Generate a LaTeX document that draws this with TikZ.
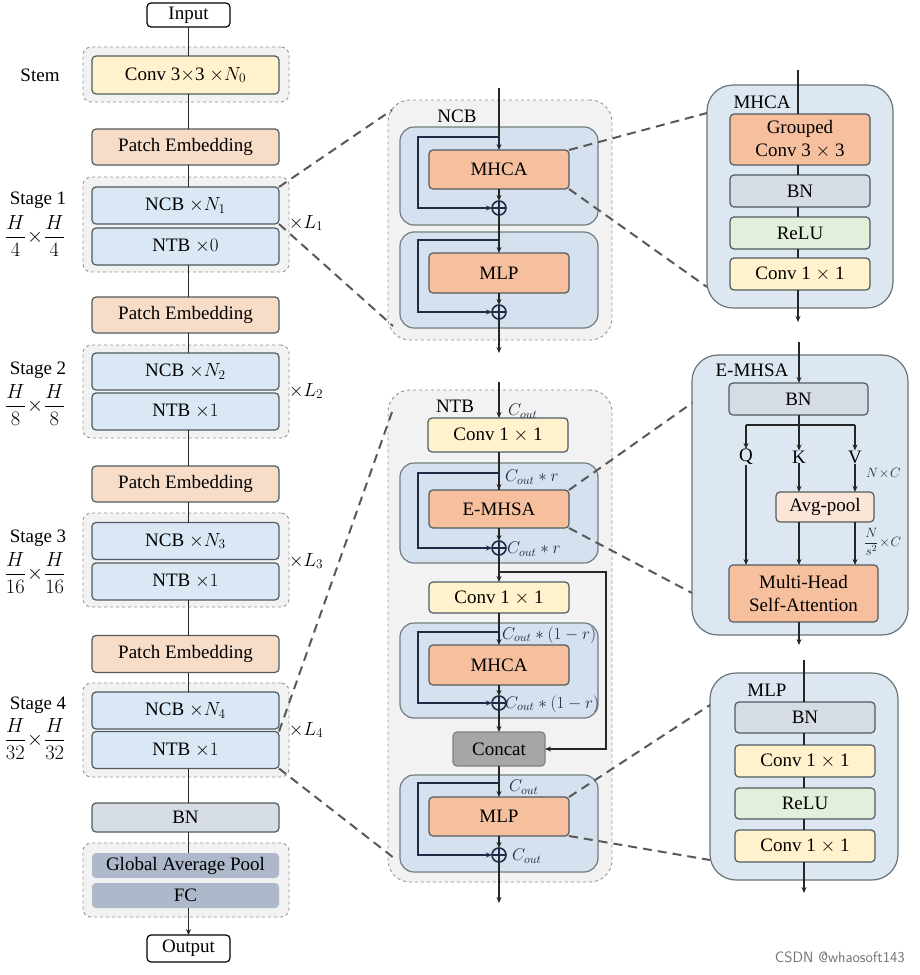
\RequirePackage{fix-cm}
\documentclass[tikz,border=0pt]{standalone}
\usepackage{amsmath}
\usepackage{fontspec}
\setmainfont{Liberation Serif}
\usetikzlibrary{arrows.meta,calc}
\definecolor{bord}{HTML}{4F5B5F}
\definecolor{cyel}{HTML}{FFF2CC}
\definecolor{cpeach}{HTML}{F7DCC8}
\definecolor{cblue}{HTML}{DAE7F5}
\definecolor{cblueb}{HTML}{D6E1EF}
\definecolor{cgray}{HTML}{D5DCE4}
\definecolor{cgap}{HTML}{ADB9CA}
\definecolor{cgrp}{HTML}{F2F2F2}
\definecolor{corange}{HTML}{F6C09E}
\definecolor{cgreen}{HTML}{E2EFDA}
\definecolor{cavg}{HTML}{FBE5D6}
\definecolor{cright}{HTML}{DDE7F2}
\definecolor{cconcat}{HTML}{A6A6A6}
\definecolor{navy}{HTML}{1F2A44}
\tikzset{
  x=1pt,y=-1pt,
  fnt/.style={font=\fontsize{19}{23}\selectfont},
  sfnt/.style={font=\fontsize{17}{19}\selectfont},
  box/.style={draw=bord,line width=1.2pt,rounded corners=4pt,inner sep=0pt,outer sep=0pt,fnt,align=center},
  wbox/.style={box,fill=white,draw=black},
  ybox/.style={box,fill=cyel},
  pbox/.style={box,fill=cpeach},
  bbox/.style={box,fill=cblue},
  gbox/.style={box,fill=cgray},
  obox/.style={box,fill=corange},
  grbox/.style={box,fill=cgreen},
  abox/.style={box,fill=cavg},
  capbox/.style={box,draw=none,fill=cgap},
  ccbox/.style={box,fill=cconcat,draw=gray},
  grp/.style={draw=gray!85,dashed,line width=0.9pt,fill=cgrp,rounded corners=8pt,inner sep=0pt,outer sep=0pt},
  bgrp/.style={draw=gray!85,dashed,line width=0.9pt,fill=cgrp,rounded corners=22pt,inner sep=0pt,outer sep=0pt},
  iblk/.style={draw=bord!80,line width=1.2pt,fill=cblueb,rounded corners=14pt,inner sep=0pt,outer sep=0pt},
  rblk/.style={draw=bord!85,line width=1.2pt,fill=cright,rounded corners=26pt,inner sep=0pt,outer sep=0pt},
  ln/.style={line width=1.3pt,draw=black!85},
  arr/.style={ln,-{Stealth[length=6pt,width=5pt]}},
  skip/.style={line width=1.8pt,draw=navy,-{Stealth[length=6pt,width=5pt]}},
  oplus/.style={circle,draw=navy,line width=1.6pt,minimum size=14pt,inner sep=0pt,outer sep=0pt,fill=cblueb,
    path picture={\draw[navy,line width=1.6pt] (path picture bounding box.north) -- (path picture bounding box.south) (path picture bounding box.west) -- (path picture bounding box.east);}},
  zoomln/.style={dashed,draw=black!65,line width=2pt,dash pattern=on 9pt off 6pt},
  lbl/.style={fnt,inner sep=0pt},
  frc/.style={inner sep=0pt,font=\fontsize{20.5}{23}\selectfont},
  ml/.style={sfnt,inner sep=0pt,text=navy},
}
\begin{document}
\begin{tikzpicture}
\useasboundingbox[fill=white] (0,0) rectangle (920,975);

% ---------------- left column ----------------
\node[grp,minimum width=206pt,minimum height=55pt] (stemgrp) at (186,74.5) {};
\node[grp,minimum width=206pt,minimum height=95pt] (g1) at (186,224.5) {};
\node[grp,minimum width=206pt,minimum height=93pt] (g2) at (186,391.5) {};
\node[grp,minimum width=206pt,minimum height=94pt] (g3) at (186,560) {};
\node[grp,minimum width=206pt,minimum height=94pt] (g4) at (186,730) {};
\node[grp,minimum width=206pt,minimum height=74pt] (g5) at (186,880) {};

\node[wbox,minimum width=83pt,minimum height=24pt] (input) at (188.5,15) {Input};
\node[ybox,minimum width=187pt,minimum height=38pt] (stem) at (185.5,75) {Conv 3$\times$3 $\times N_0$};
\node[pbox,minimum width=187pt,minimum height=36pt] (pe1) at (185.5,147) {Patch Embedding};
\node[bbox,minimum width=187pt,minimum height=37pt] (ncb1) at (185.5,205.5) {NCB $\times N_1$};
\node[bbox,minimum width=187pt,minimum height=37pt] (ntb1) at (185.5,246.5) {NTB $\times 0$};
\node[pbox,minimum width=187pt,minimum height=36pt] (pe2) at (185.5,315) {Patch Embedding};
\node[bbox,minimum width=187pt,minimum height=37pt] (ncb2) at (185.5,371.5) {NCB $\times N_2$};
\node[bbox,minimum width=187pt,minimum height=37pt] (ntb2) at (185.5,411.5) {NTB $\times 1$};
\node[pbox,minimum width=187pt,minimum height=36pt] (pe3) at (185.5,484) {Patch Embedding};
\node[bbox,minimum width=187pt,minimum height=37pt] (ncb3) at (185.5,541) {NCB $\times N_3$};
\node[bbox,minimum width=187pt,minimum height=37pt] (ntb3) at (185.5,581.5) {NTB $\times 1$};
\node[pbox,minimum width=187pt,minimum height=37pt] (pe4) at (185.5,654) {Patch Embedding};
\node[bbox,minimum width=187pt,minimum height=37pt] (ncb4) at (185.5,710.5) {NCB $\times N_4$};
\node[bbox,minimum width=187pt,minimum height=37pt] (ntb4) at (185.5,750) {NTB $\times 1$};
\node[gbox,minimum width=187pt,minimum height=29pt] (bn) at (185.5,817.5) {BN};
\node[capbox,minimum width=187pt,minimum height=25pt] (gap) at (185.5,865.5) {Global Average Pool};
\node[capbox,minimum width=187pt,minimum height=25pt] (fc) at (185.5,895.5) {FC};
\node[wbox,minimum width=83pt,minimum height=27pt] (output) at (188.5,948.5) {Output};

\draw[ln] (input.south) -- (input.south |- stem.north);
\draw[ln] (stem.south -| input) -- (input |- pe1.north);
\draw[ln] (pe1.south -| input) -- (input |- ncb1.north);
\draw[ln] (ntb1.south -| input) -- (input |- pe2.north);
\draw[ln] (pe2.south -| input) -- (input |- ncb2.north);
\draw[ln] (ntb2.south -| input) -- (input |- pe3.north);
\draw[ln] (pe3.south -| input) -- (input |- ncb3.north);
\draw[ln] (ntb3.south -| input) -- (input |- pe4.north);
\draw[ln] (pe4.south -| input) -- (input |- ncb4.north);
\draw[ln] (ntb4.south -| input) -- (input |- bn.north);
\draw[ln] (bn.south -| input) -- (input |- gap.north);
\draw[arr] (fc.south -| input) -- (output.north);

\node[lbl] (stemlbl) at (40,75) {Stem};
\node[lbl] (s1) at (38,200) {Stage 1};
\node[frc] (f1) at (35,236) {$\dfrac{H}{4}\!\times\!\dfrac{H}{4}$};
\node[lbl] (s2) at (38,370) {Stage 2};
\node[frc] (f2) at (35,405) {$\dfrac{H}{8}\!\times\!\dfrac{H}{8}$};
\node[lbl] (s3) at (38,538) {Stage 3};
\node[frc] (f3) at (35,573) {$\dfrac{H}{16}\!\times\!\dfrac{H}{16}$};
\node[lbl] (s4) at (38,705) {Stage 4};
\node[frc] (f4) at (35,739) {$\dfrac{H}{32}\!\times\!\dfrac{H}{32}$};
\node[lbl] (l1) at (306,223) {$\times L_1$};
\node[lbl] (l2) at (306,391) {$\times L_2$};
\node[lbl] (l3) at (306,561) {$\times L_3$};
\node[lbl] (l4) at (306,730) {$\times L_4$};

% ---------------- NCB detail ----------------
\node[bgrp,minimum width=224pt,minimum height=240pt] (ncbg) at (500,220) {};
\node[lbl] (ncbl) at (457,116) {NCB};
\node[iblk,minimum width=198pt,minimum height=98pt] (nb1) at (499,176) {};
\node[iblk,minimum width=198pt,minimum height=96pt] (nb2) at (499,280) {};
\node[obox,minimum width=140pt,minimum height=39pt] (nmhca) at (499,169.5) {MHCA};
\node[obox,minimum width=140pt,minimum height=40pt] (nmlp) at (499,273) {MLP};
\node[oplus] (p1) at (499,208) {};
\node[oplus] (p2) at (499,312) {};
\coordinate (nin) at (499,88);
\coordinate (nout) at (499,353);
\coordinate (nsk1) at (499,137);
\coordinate (nsk2) at (499,240);
\draw[arr] (nin) -- (nmhca.north);
\draw[arr] (nmhca.south) -- (p1.north);
\draw[arr] (p1.south) -- (nmlp.north);
\draw[arr] (nmlp.south) -- (p2.north);
\draw[arr] (p2.south) -- (nout);
\draw[skip] (nsk1) -- (418,137) -- (418,208) -- (p1.west);
\draw[skip] (nsk2) -- (418,240) -- (418,312) -- (p2.west);

% ---------------- NTB detail ----------------
\node[bgrp,minimum width=224pt,minimum height=492pt] (ntbg) at (500,636) {};
\node[lbl] (ntbl) at (455,406) {NTB};
\node[ybox,minimum width=140pt,minimum height=34pt] (tc1) at (498,435) {Conv 1 $\times$ 1};
\node[iblk,minimum width=198pt,minimum height=100pt] (tb1) at (499,513) {};
\node[obox,minimum width=140pt,minimum height=38pt] (temhsa) at (499,509) {E-MHSA};
\node[oplus] (p3) at (499,548) {};
\node[ybox,minimum width=140pt,minimum height=31pt] (tc2) at (499,597.5) {Conv 1 $\times$ 1};
\node[iblk,minimum width=198pt,minimum height=95pt] (tb2) at (499,670.5) {};
\node[obox,minimum width=140pt,minimum height=40pt] (tmhca) at (499,665) {MHCA};
\node[oplus] (p4) at (499,703) {};
\node[ccbox,minimum width=92pt,minimum height=34pt] (concat) at (499,749) {Concat};
\node[iblk,minimum width=198pt,minimum height=97pt] (tb3) at (499,823.5) {};
\node[obox,minimum width=140pt,minimum height=39pt] (tmlp) at (499,816.5) {MLP};
\node[oplus] (p5) at (499,855) {};
\coordinate (tin) at (499,382);
\coordinate (tout) at (499,903);
\coordinate (tbr) at (499,572);
\draw[arr] (tin) -- (499,418);
\draw[ln] (tc1.south -| p3) -- (499,490);
\draw[arr] (499,470) -- (temhsa.north);
\draw[arr] (temhsa.south) -- (p3.north);
\draw[arr] (p3.south) -- (499,582);
\draw[ln] (499,613) -- (499,630);
\draw[arr] (499,626) -- (tmhca.north);
\draw[arr] (tmhca.south) -- (p4.north);
\draw[arr] (p4.south) -- (concat.north);
\draw[arr] (concat.south) -- (tmlp.north);
\draw[arr] (tmlp.south) -- (p5.north);
\draw[arr] (p5.south) -- (tout);
\draw[ln,-{Stealth[length=6pt,width=5pt]}] (tbr) -- (606,572) -- (606,749) -- (concat.east);
\draw[skip] (499,473) -- (418,473) -- (418,548) -- (p3.west);
\draw[skip] (499,632) -- (418,632) -- (418,703) -- (p4.west);
\draw[skip] (499,783) -- (418,783) -- (418,855) -- (p5.west);
\node[ml,anchor=west] (c0) at (508,411) {$C_{out}$};
\node[ml,anchor=west] (c1) at (505,477) {$C_{out}*r$};
\node[ml,anchor=west] (c2) at (507,549) {$C_{out}*r$};
\node[ml,anchor=west] (c3) at (502,635) {$C_{out}*(1-r)$};
\node[ml,anchor=west] (c4) at (505,704) {$C_{out}*(1-r)$};
\node[ml,anchor=west] (c5) at (509,787) {$C_{out}$};
\node[ml,anchor=west] (c6) at (512,856) {$C_{out}$};

% ---------------- right MHCA ----------------
\node[rblk,minimum width=186pt,minimum height=223pt] (rm) at (800,196.5) {};
\node[lbl] (rml) at (762,102) {MHCA};
\node[obox,minimum width=140pt,minimum height=51pt] (rgc) at (800,139.5) {Grouped\\Conv 3 $\times$ 3};
\node[gbox,minimum width=140pt,minimum height=32pt] (rbn) at (800,191) {BN};
\node[grbox,minimum width=140pt,minimum height=32pt] (rrelu) at (800,233) {ReLU};
\node[ybox,minimum width=140pt,minimum height=32pt] (rconv) at (800,274) {Conv 1 $\times$ 1};
\coordinate (rmin) at (798,70);
\coordinate (rmout) at (798,322);
\draw[ln] (rmin) -- (rmin |- rgc.north);
\draw[ln] (rgc.south -| rmin) -- (rmin |- rbn.north);
\draw[ln] (rbn.south -| rmin) -- (rmin |- rrelu.north);
\draw[ln] (rrelu.south -| rmin) -- (rmin |- rconv.north);
\draw[arr] (rconv.south -| rmin) -- (rmout);

% ---------------- right E-MHSA ----------------
\node[rblk,minimum width=216pt,minimum height=280pt] (re) at (800,495) {};
\node[lbl] (rel) at (752,370) {E-MHSA};
\node[gbox,minimum width=139pt,minimum height=32pt] (ebn) at (798.5,399) {BN};
\node[abox,minimum width=98pt,minimum height=30pt] (eavg) at (825,507) {Avg-pool};
\node[obox,minimum width=149pt,minimum height=57pt] (emhsa) at (803.5,593.5) {Multi-Head\\Self-Attention};
\node[lbl] (q) at (746,457) {Q};
\node[lbl] (k) at (799,457) {K};
\node[lbl] (v) at (855,457) {V};
\coordinate (ein) at (799,342);
\coordinate (eout) at (799,645);
\draw[arr] (ein) -- (ebn.north -| ein);
\draw[ln] (ebn.south -| ein) -- (799,425);
\draw[ln] (746,425) -- (855,425);
\draw[arr] (746,425) -- (q.north);
\draw[arr] (799,425) -- (k.north);
\draw[arr] (855,425) -- (v.north);
\draw[arr] (q.south) -- (q.south |- emhsa.north);
\draw[arr] (k.south) -- (k.south |- eavg.north);
\draw[arr] (v.south) -- (v.south |- eavg.north);
\draw[arr] (eavg.south -| k) -- (k |- emhsa.north);
\draw[arr] (eavg.south -| v) -- (v |- emhsa.north);
\draw[arr] (emhsa.south -| ein) -- (eout);
\node[ml,anchor=west,font=\fontsize{13.5}{15}\selectfont] (nc) at (866,473) {$N\!\times\! C$};
\node[ml,anchor=west,font=\fontsize{13.5}{15}\selectfont] (nsc) at (864,542) {$\dfrac{N}{s^2}\!\times\! C$};

% ---------------- right MLP ----------------
\node[rblk,minimum width=188pt,minimum height=207pt] (rl) at (804,776.5) {};
\node[lbl] (rll) at (767,690) {MLP};
\node[gbox,minimum width=140pt,minimum height=31pt] (lbn) at (805,717.5) {BN};
\node[ybox,minimum width=140pt,minimum height=32pt] (lc1) at (805,761) {Conv 1 $\times$ 1};
\node[grbox,minimum width=140pt,minimum height=31pt] (lrelu) at (805,803.5) {ReLU};
\node[ybox,minimum width=140pt,minimum height=32pt] (lc2) at (805,846) {Conv 1 $\times$ 1};
\coordinate (lin) at (804,660);
\coordinate (lout) at (804,893);
\draw[ln] (lin) -- (lin |- lbn.north);
\draw[ln] (lbn.south -| lin) -- (lin |- lc1.north);
\draw[ln] (lc1.south -| lin) -- (lin |- lrelu.north);
\draw[ln] (lrelu.south -| lin) -- (lin |- lc2.north);
\draw[arr] (lc2.south -| lin) -- (lout);

% ---------------- zoom lines ----------------
\draw[zoomln] (ncb1.north east) -- (392,110);
\draw[zoomln] (ncb1.south east) -- (393,326);
\draw[zoomln] (ntb4.north east) -- (392,412);
\draw[zoomln] (ntb4.south east) -- (394,858);
\draw[zoomln] (nmhca.north east) -- (707,113);
\draw[zoomln] (nmhca.south east) -- (707,287);
\draw[zoomln] (temhsa.north east) -- (692,403);
\draw[zoomln] (temhsa.south east) -- (692,593);
\draw[zoomln] (tmlp.north east) -- (710,705);
\draw[zoomln] (tmlp.south east) -- (710,860);

\node[font=\fontsize{15}{17}\selectfont\sffamily,text=black!55,anchor=east,inner sep=0pt] (wm) at (905,957) {CSDN @whaosoft143};
\end{tikzpicture}
\end{document}
